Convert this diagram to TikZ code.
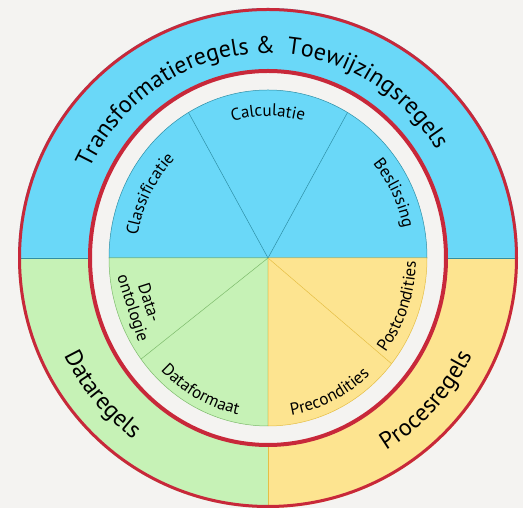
\documentclass[tikz,border=0pt]{standalone}
\usepackage{fontspec}
\setmainfont{PT Sans}
\usetikzlibrary{decorations.text}

\definecolor{bgcol}{HTML}{F4F3F1}
\definecolor{ruleblue}{HTML}{6AD8F8}
\definecolor{rulegreen}{HTML}{C6F2B6}
\definecolor{ruleyellow}{HTML}{FDE490}
\definecolor{rimred}{HTML}{C8283A}
\definecolor{blueline}{HTML}{2E8FA6}
\definecolor{greenline}{HTML}{7DBB6C}
\definecolor{yellowline}{HTML}{E5BE45}

\newcommand{\bandfont}{\fontsize{24}{24}\selectfont}
\newcommand{\piefont}{\fontsize{17}{17}\selectfont}

\tikzset{
  bandtext/.style={decorate, decoration={text along path, text align=center, text={|\bandfont|#1}}},
  pietext/.style={decorate, decoration={text along path, text align=center, text={|\piefont|#1}}},
}

\begin{document}
\begin{tikzpicture}[x=1pt, y=1pt]
    \useasboundingbox (0,0) rectangle (523,508);
    \fill[bgcol] (0,0) rectangle (523,508);
    \coordinate (c) at (268,250);

    % outer band: three rule groups
    \fill[ruleblue] (c) -- ++(0:250pt) arc[start angle=0, end angle=180, radius=250pt] -- cycle;
    \fill[rulegreen] (c) -- ++(180:250pt) arc[start angle=180, end angle=270, radius=250pt] -- cycle;
    \fill[ruleyellow] (c) -- ++(270:250pt) arc[start angle=270, end angle=360, radius=250pt] -- cycle;
    \draw[blueline, line width=0.6pt] (c) ++(180:250pt) -- ++(500pt,0);
    \draw[yellowline, line width=0.6pt] (c) -- ++(270:250pt);
    \draw[rimred, line width=3pt] (c) circle[radius=248.5pt];

    % gap with red ring
    \filldraw[fill=bgcol, draw=rimred, line width=4pt] (c) ellipse[x radius=178pt, y radius=187pt];

    % inner pie
    \filldraw[fill=ruleblue, draw=blueline, line width=0.5pt] (c) -- ++(0:159pt and 168pt) arc[start angle=0, end angle=180, x radius=159pt, y radius=168pt] -- cycle;
    \filldraw[fill=rulegreen, draw=greenline, line width=0.5pt] (c) -- ++(180:159pt and 168pt) arc[start angle=180, end angle=270, x radius=159pt, y radius=168pt] -- cycle;
    \filldraw[fill=ruleyellow, draw=yellowline, line width=0.5pt] (c) -- ++(270:159pt and 168pt) arc[start angle=270, end angle=360, x radius=159pt, y radius=168pt] -- cycle;
    \draw[blueline, line width=0.5pt] (c) -- ++(60:159pt and 168pt);
    \draw[blueline, line width=0.5pt] (c) -- ++(120:159pt and 168pt);
    \draw[greenline, line width=0.5pt] (c) -- ++(217:159pt and 168pt);
    \draw[yellowline, line width=0.5pt] (c) -- ++(321:159pt and 168pt);

    % band labels
    \path[bandtext={Transformatieregels {\&}{\kern5pt} Toewijzingsregels}] (c) ++(178:198pt and 205pt) arc[start angle=178, end angle=8, x radius=198pt, y radius=205pt];
    \path[bandtext={Dataregels}] (c) ++(180:226pt) arc[start angle=180, end angle=259, radius=226pt];
    \path[bandtext={Procesregels}] (c) ++(278:226pt) arc[start angle=278, end angle=358, radius=226pt];

    % pie labels
    \path[pietext={Calculatie}] (c) ++(150:134pt and 142pt) arc[start angle=150, end angle=30, x radius=134pt, y radius=142pt];
    \path[pietext={Classificatie}] (c) ++(212:132pt and 139.5pt) arc[start angle=212, end angle=92, x radius=132pt, y radius=139.5pt];
    \path[pietext={Beslissing}] (c) ++(87:138pt and 146pt) arc[start angle=87, end angle=-33, x radius=138pt, y radius=146pt];
    \path[pietext={Dataformaat}] (c) ++(182.5:151pt and 159.6pt) arc[start angle=182.5, end angle=302.5, x radius=151pt, y radius=159.6pt];
    \path[pietext={Precondities}] (c) ++(235:150pt and 159pt) arc[start angle=235, end angle=355, x radius=150pt, y radius=159pt];
    \path[pietext={Postcondities}] (c) ++(280:148pt and 156pt) arc[start angle=280, end angle=400, x radius=148pt, y radius=156pt];
    \node[rotate=-72, align=center, font=\piefont, inner sep=0pt] (dataont) at ([shift={(-128pt,-48pt)}]c) {Data-\\ontologie};
\end{tikzpicture}
\end{document}
